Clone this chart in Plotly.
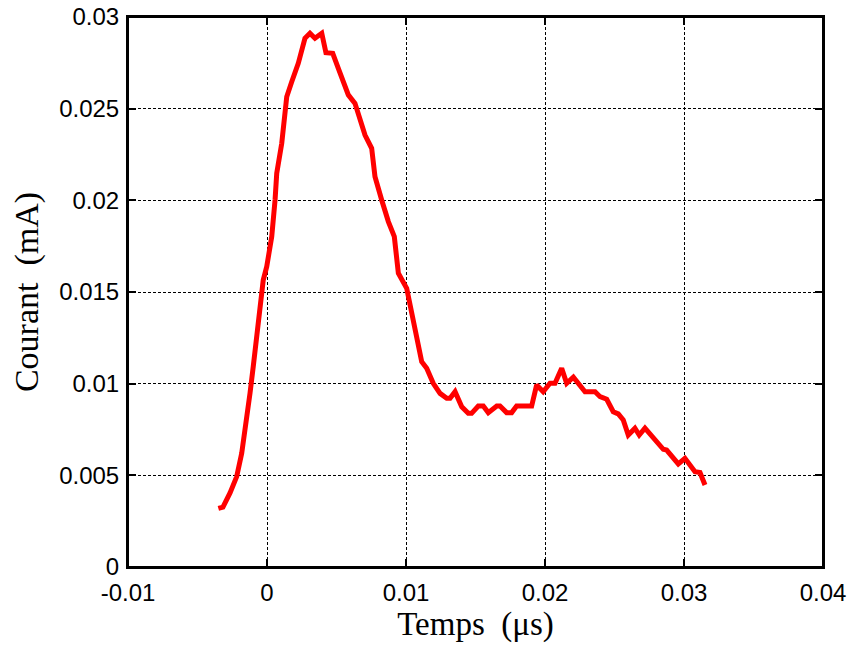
import plotly.graph_objects as go

time_us = [-0.00350, -0.00317, -0.00266, -0.00245, -0.00218, -0.00182, -0.00146, -0.00122,
           -0.00099, -0.00074, -0.00050, -0.00027, -0.00002, 0.00034, 0.00058, 0.00070,
           0.00106, 0.00142, 0.00178, 0.00225, 0.00273, 0.00309, 0.00345, 0.00394,
           0.00424, 0.00473, 0.00513, 0.00549, 0.00585, 0.00633, 0.00669, 0.00705,
           0.00753, 0.00777, 0.00825, 0.00873, 0.00916, 0.00945, 0.01005, 0.01053,
           0.01113, 0.01149, 0.01196, 0.01245, 0.01293, 0.01317, 0.01353, 0.01401,
           0.01448, 0.01472, 0.01520, 0.01556, 0.01592, 0.01653, 0.01676, 0.01724,
           0.01760, 0.01796, 0.01904, 0.01940, 0.01987, 0.02036, 0.02072, 0.02120,
           0.02156, 0.02204, 0.02288, 0.02360, 0.02396, 0.02444, 0.02491, 0.02527,
           0.02563, 0.02599, 0.02647, 0.02678, 0.02719, 0.02851, 0.02875, 0.02959,
           0.03007, 0.03079, 0.03115, 0.03151]
courant_mA = [0.00320, 0.00327, 0.00404, 0.00447, 0.00493, 0.00620, 0.00802, 0.00949,
              0.01093, 0.01256, 0.01420, 0.01565, 0.01638, 0.01802, 0.02002, 0.02147,
              0.02311, 0.02565, 0.02647, 0.02747, 0.02884, 0.02911, 0.02884, 0.02911,
              0.02805, 0.02802, 0.02720, 0.02656, 0.02575, 0.02529, 0.02438, 0.02356,
              0.02284, 0.02129, 0.02002, 0.01884, 0.01802, 0.01602, 0.01520, 0.01347,
              0.01120, 0.01084, 0.01002, 0.00947, 0.00920, 0.00920, 0.00956, 0.00874,
              0.00838, 0.00838, 0.00878, 0.00878, 0.00842, 0.00878, 0.00878, 0.00842,
              0.00842, 0.00878, 0.00878, 0.00993, 0.00956, 0.01002, 0.01002, 0.01084,
              0.01002, 0.01035, 0.00956, 0.00956, 0.00929, 0.00915, 0.00847, 0.00835,
              0.00802, 0.00720, 0.00757, 0.00720, 0.00757, 0.00642, 0.00638, 0.00562,
              0.00593, 0.00520, 0.00515, 0.00447]

x_ticks = [-0.01, 0, 0.01, 0.02, 0.03, 0.04]
x_tick_labels = ["-0.01", "0", "0.01", "0.02", "0.03", "0.04"]
y_ticks = [0, 0.005, 0.01, 0.015, 0.02, 0.025, 0.03]
y_tick_labels = ["0", "0.005", "0.01", "0.015", "0.02", "0.025", "0.03"]

fig = go.Figure()
fig.add_trace(go.Scatter(x=time_us, y=courant_mA, mode="lines",
                         line=dict(color="#ff0000", width=5), showlegend=False))

axis_common = dict(showline=True, linecolor="black", linewidth=2, mirror="ticks",
                   ticks="inside", ticklen=8, tickcolor="black", tickwidth=1.5,
                   showgrid=True, gridcolor="black", griddash="3px,2px", gridwidth=1,
                   zeroline=False, automargin=False, ticklabeloverflow="allow",
                   tickfont=dict(family="Liberation Sans, Arial", size=24, color="black"))

fig.update_layout(
    width=853, height=648,
    margin=dict(l=128, r=30, t=17, b=81, autoexpand=False),
    paper_bgcolor="white", plot_bgcolor="white",
    xaxis=dict(range=[-0.01, 0.04], tickvals=x_ticks, ticktext=x_tick_labels,
               ticklabelstandoff=3,
               title=dict(text="Temps\u00a0 (\u03bcs)", standoff=6,
                          font=dict(family="Liberation Serif, Times New Roman", size=33, color="black")),
               **axis_common),
    yaxis=dict(range=[0, 0.03], tickvals=y_ticks, ticktext=y_tick_labels,
               ticklabelstandoff=2,
               title=dict(text="Courant\u00a0 (mA)", standoff=10,
                          font=dict(family="Liberation Serif, Times New Roman", size=34, color="black")),
               **axis_common),
    shapes=[dict(type="rect", xref="x domain", yref="y domain", x0=0, x1=1, y0=0, y1=1,
                 line=dict(color="black", width=2), fillcolor="rgba(0,0,0,0)", layer="above")],
)

fig.write_html("out.html", config={"displayModeBar": False},
               post_script="document.body.style.margin='0';")
